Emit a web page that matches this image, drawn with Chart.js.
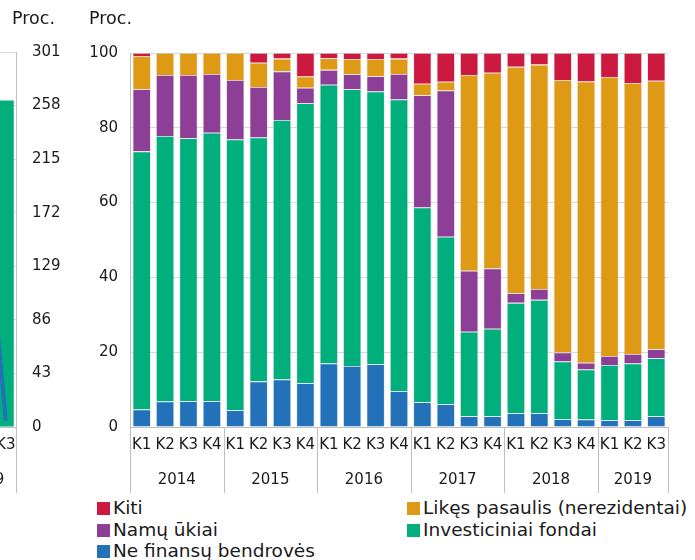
<!DOCTYPE html>
<html>
<head>
<meta charset="utf-8">
<script src="https://cdn.jsdelivr.net/npm/chart.js@4"></script>
<style>
  html, body { margin: 0; padding: 0; background: #fff; }
  body { width: 695px; height: 560px; position: relative; overflow: hidden; font-family: "DejaVu Sans", Verdana, sans-serif; color: #1a1a1a; }
  #mainChart { position: absolute; left: 0; top: 0; }
  #leftChart { position: absolute; top: 0; }
  .unit { position: absolute; top: 8px; font-size: 17.5px; }
  .legend { position: absolute; font-size: 18.5px; line-height: 21px; white-space: nowrap; }
  .legend span.box { display: inline-block; width: 13px; height: 13px; margin-right: 3px; vertical-align: -1px; }
</style>
</head>
<body>
<canvas id="leftChart" width="120" height="495"></canvas>
<canvas id="mainChart" width="695" height="495"></canvas>
<div class="unit" style="left:12px">Proc.</div>
<div class="unit" style="left:89px">Proc.</div>
<div id="legend"></div>
<script>
// main chart data, shares in percent, 2014 K1 .. 2019 K3
const quarters = ['K1','K2','K3','K4','K1','K2','K3','K4','K1','K2','K3','K4',
                  'K1','K2','K3','K4','K1','K2','K3','K4','K1','K2','K3'];
const years = ['2014','2015','2016','2017','2018','2019'];
const quartersPerYear = [4, 4, 4, 4, 4, 3];

const neFinansu = [4.7,6.8,6.9,6.9, 4.5,12.2,12.7,11.7, 17.0,16.3,16.8,9.6, 6.6,6.1,2.9,2.9, 3.7,3.7,2.1,2.0, 1.8,1.8,2.9];
const investiciniai = [69.0,71.0,70.3,71.8, 72.4,65.2,69.4,74.9, 74.5,74.0,72.9,78.0, 52.1,44.8,22.6,23.4, 29.5,30.3,15.4,13.4, 14.8,15.2,15.5];
const namuUkiai = [16.6,16.3,16.9,15.7, 15.9,13.5,13.0,4.1, 4.0,4.0,4.1,6.8, 30.0,39.1,16.3,16.1, 2.6,2.9,2.4,1.8, 2.4,2.5,2.4];
const likesPasaulis = [8.9,5.9,5.9,5.6, 7.2,6.5,3.4,3.0, 3.1,4.1,4.6,4.1, 3.1,2.3,52.3,52.3, 60.5,60.0,72.9,75.2, 74.6,72.5,71.8];
const kiti = [0.8,0,0,0, 0,2.6,1.5,6.3, 1.4,1.6,1.6,1.5, 8.2,7.7,5.9,5.3, 3.7,3.1,7.2,7.6, 6.4,8.0,7.4];
const yTicks = [0, 20, 40, 60, 80, 100];

// cut-off neighbour chart on the left edge (only its end is visible)
const leftQuarters = ['K1','K2','K3'];
const leftYears = ['2019'];
const leftQuartersPerYear = [3];
const leftBars = [null, null, 262];
const leftLine = [null, 187, 5];
const leftTicks = [0, 43, 86, 129, 172, 215, 258, 301];

const COLORS = {
  kiti: '#cc1940',
  likes: '#df9a15',
  namu: '#8d3e97',
  invest: '#00af7c',
  ne: '#2371b9'
};
const FONT = 'DejaVu Sans';
const TICK_SIZE = 15;
const GRID = '#d9d9d9';
const AXIS = '#bfbfbf';

// year row + separators under the quarter labels
const groupPlugin = {
  id: 'groups',
  afterDraw(chart, args, opts) {
    const x = chart.scales.x;
    const ctx = chart.ctx;
    const half = (x.getPixelForValue(1) - x.getPixelForValue(0)) / 2;
    const bottom = chart.chartArea.bottom;
    ctx.save();
    ctx.strokeStyle = AXIS;
    ctx.lineWidth = 1;
    ctx.fillStyle = '#1a1a1a';
    ctx.font = TICK_SIZE + 'px "' + FONT + '"';
    ctx.textAlign = 'center';
    ctx.textBaseline = 'middle';
    let idx = 0;
    const edges = [x.getPixelForValue(0) - half];
    opts.counts.forEach((n, g) => {
      const left = x.getPixelForValue(idx) - half;
      const right = x.getPixelForValue(idx + n - 1) + half;
      edges.push(right);
      ctx.fillText(opts.labels[g], (left + right) / 2, 480);
      idx += n;
    });
    edges.forEach(e => {
      const px = Math.round(e) + 0.5;
      ctx.beginPath();
      ctx.moveTo(px, bottom);
      ctx.lineTo(px, 493);
      ctx.stroke();
    });
    ctx.restore();
  }
};

new Chart(document.getElementById('mainChart'), {
  type: 'bar',
  data: {
    labels: quarters,
    datasets: [
      { label: 'Ne finansų bendrovės', data: neFinansu, backgroundColor: COLORS.ne },
      { label: 'Investiciniai fondai', data: investiciniai, backgroundColor: COLORS.invest },
      { label: 'Namų ūkiai', data: namuUkiai, backgroundColor: COLORS.namu },
      { label: 'Likęs pasaulis (nerezidentai)', data: likesPasaulis, backgroundColor: COLORS.likes },
      { label: 'Kiti', data: kiti, backgroundColor: COLORS.kiti }
    ].map(d => Object.assign(d, {
      borderColor: 'rgba(200,200,200,0.55)',
      borderWidth: 0.8,
      barPercentage: 0.78,
      categoryPercentage: 1
    }))
  },
  options: {
    responsive: false,
    animation: false,
    layout: { padding: { top: 53, right: 27, left: 0, bottom: 0 } },
    plugins: {
      legend: { display: false },
      tooltip: { enabled: false },
      groups: { labels: years, counts: quartersPerYear }
    },
    scales: {
      x: {
        stacked: true,
        grid: { display: false, drawTicks: false },
        border: { color: AXIS },
        ticks: { autoSkip: false, maxRotation: 0, padding: 9, color: '#1a1a1a', font: { family: FONT, size: TICK_SIZE } },
        afterFit: s => { s.height = 68; }
      },
      y: {
        stacked: true,
        min: 0,
        max: 100,
        afterBuildTicks: s => { s.ticks = yTicks.map(v => ({ value: v })); },
        grid: { color: GRID, drawTicks: false },
        border: { color: AXIS },
        ticks: { padding: 12, color: '#1a1a1a', font: { family: FONT, size: TICK_SIZE } },
        afterFit: s => { s.width = 130; }
      }
    }
  },
  plugins: [groupPlugin]
});

// neighbour chart: plot right edge at x=16 on the page
const catW = 538 / quarters.length;
const leftCanvas = document.getElementById('leftChart');
const leftAxisW = 70;
const leftPlotW = catW * leftQuarters.length;
leftCanvas.width = Math.round(leftPlotW + leftAxisW);
leftCanvas.style.left = (16 - leftPlotW) + 'px';

new Chart(leftCanvas, {
  type: 'bar',
  data: {
    labels: leftQuarters,
    datasets: [
      { type: 'line', data: leftLine, borderColor: COLORS.ne, borderWidth: 4, pointRadius: 0, order: 0 },
      { data: leftBars, backgroundColor: COLORS.invest, barPercentage: 0.78, categoryPercentage: 1, order: 1 }
    ]
  },
  options: {
    responsive: false,
    animation: false,
    layout: { padding: { top: 52, right: 0, left: 0, bottom: 0 } },
    plugins: {
      legend: { display: false },
      tooltip: { enabled: false },
      groups: { labels: leftYears, counts: leftQuartersPerYear }
    },
    scales: {
      x: {
        grid: { display: false, drawTicks: false },
        border: { color: AXIS },
        ticks: { autoSkip: false, maxRotation: 0, padding: 9, color: '#1a1a1a', font: { family: FONT, size: TICK_SIZE } },
        afterFit: s => { s.height = 68; }
      },
      y: {
        position: 'right',
        min: 0,
        max: 301,
        afterBuildTicks: s => { s.ticks = leftTicks.map(v => ({ value: v })); },
        grid: { color: GRID, drawTicks: false },
        border: { color: AXIS },
        ticks: { padding: 16, color: '#1a1a1a', font: { family: FONT, size: TICK_SIZE } },
        afterFit: s => { s.width = leftAxisW; }
      }
    }
  },
  plugins: [groupPlugin]
});

// two-column legend as in the original
const legendItems = [
  ['Kiti', COLORS.kiti, 97, 497],
  ['Likęs pasaulis (nerezidentai)', COLORS.likes, 407, 497],
  ['Namų ūkiai', COLORS.namu, 97, 519],
  ['Investiciniai fondai', COLORS.invest, 407, 519],
  ['Ne finansų bendrovės', COLORS.ne, 97, 540]
];
const legendEl = document.getElementById('legend');
legendItems.forEach(([text, color, left, top]) => {
  const div = document.createElement('div');
  div.className = 'legend';
  div.style.left = left + 'px';
  div.style.top = top + 'px';
  div.innerHTML = '<span class="box" style="background:' + color + '"></span>' + text;
  legendEl.appendChild(div);
});
</script>
</body>
</html>
